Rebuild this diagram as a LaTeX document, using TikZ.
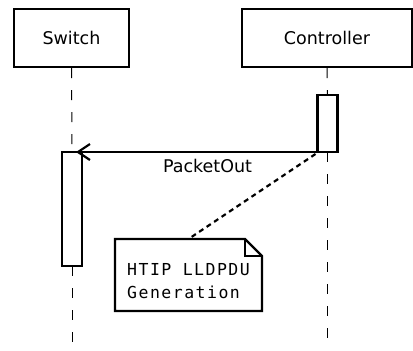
\documentclass[tikz,border=0pt]{standalone}
\usepackage{fontspec}
\setmainfont{DejaVu Sans}
\newfontfamily\notefont[LetterSpace=9]{DejaVu Sans Mono}
\usetikzlibrary{arrows.meta}
\begin{document}
\begin{tikzpicture}[x=1pt,y=-1pt,
  actor/.style={draw,line width=2.2pt,fill=white,inner sep=0pt,minimum height=58pt,font=\fontsize{17.5}{21}\selectfont},
  activation/.style={draw,line width=2.2pt,fill=white,inner sep=0pt,outer sep=0pt,minimum width=20pt},
  lifeline/.style={line width=1pt,dash pattern=on 10pt off 12pt},
  msg/.style={line width=2.2pt,-{Straight Barb[length=12pt,width=16pt]}},
  msglabel/.style={inner sep=0pt,font=\fontsize{17.5}{21}\selectfont},
  notebox/.style={inner sep=0pt,outer sep=0pt,minimum width=147pt,minimum height=72pt},
  noteline/.style={line width=2.2pt,line join=miter},
  notetext/.style={inner sep=0pt,align=left,font=\notefont\fontsize{16.5}{23}\selectfont},
  anchorline/.style={line width=2.2pt,dash pattern=on 5pt off 4pt}
]
\useasboundingbox (0,0) rectangle (413,351);
% actors
\node[actor,minimum width=115pt] (switch) at (71.5,38) {Switch};
\node[actor,minimum width=170pt] (ctrl) at (327,38) {Controller};
% activations
\node[activation,minimum height=57pt] (ctrlact) at (327.5,123.5) {};
\node[activation,minimum height=114pt] (swact) at (72,209) {};
% lifeline end points
\coordinate (swend) at (72,344);
\coordinate (ctrlend) at (327.5,344);
% lifelines
\draw[lifeline] (switch.south) -- (swact.north);
\draw[lifeline] (swact.south) -- (swend);
\draw[lifeline] (ctrl.south) -- (ctrlact.north);
\draw[lifeline] (ctrlact.south) -- (ctrlend);
% redraw activations on top
\node[activation,minimum height=57pt] at (327.5,123.5) {};
\node[activation,minimum height=114pt] at (72,209) {};
% message
\draw[msg] (ctrlact.south west) -- ([xshift=4pt]swact.north);
\node[msglabel] (lbl) at (207.5,165.5) {PacketOut};
% note
\node[notebox] (note) at (188.5,275) {};
\draw[anchorline] ([xshift=-2pt,yshift=-2pt]ctrlact.south west) -- (note.north);
\draw[noteline,fill=white] (note.north west) -- ([xshift=-17pt]note.north east) -- ([yshift=-17pt]note.north east) -- (note.south east) -- (note.south west) -- cycle;
\draw[noteline] ([xshift=-17pt]note.north east) -- ([xshift=-17pt,yshift=-17pt]note.north east) -- ([yshift=-17pt]note.north east);
\node[notetext,anchor=north west] (notetxt) at (127,263) {HTIP LLDPDU\\Generation};
\end{tikzpicture}
\end{document}
